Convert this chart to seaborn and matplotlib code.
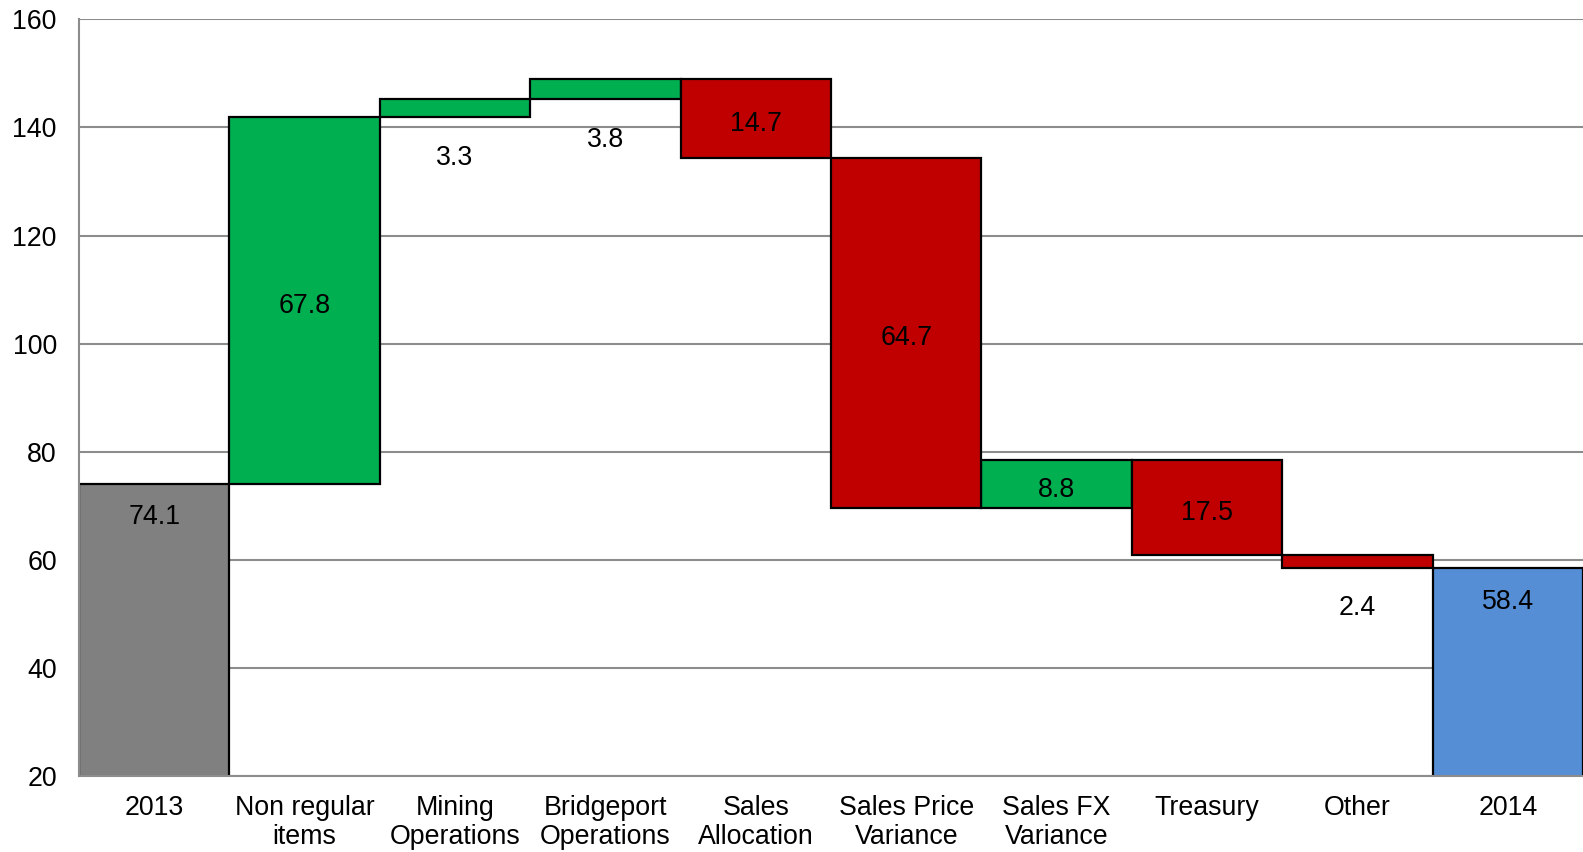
import numpy as np
import pandas as pd
import matplotlib.pyplot as plt
from matplotlib.ticker import FixedLocator
import seaborn as sns

categories = ["2013", "Non regular\nitems", "Mining\nOperations", "Bridgeport\nOperations",
              "Sales\nAllocation", "Sales Price\nVariance", "Sales FX\nVariance",
              "Treasury", "Other", "2014"]
start_value = 74.1
changes = [67.8, 3.3, 3.8, -14.7, -64.7, 8.8, -17.5, -2.4]
end_value = 58.4

colors = {"start": "#808080", "up": "#00B050", "down": "#C00000", "end": "#558ED5"}

# build waterfall table
tops, bottoms, kinds, labels = [start_value], [0.0], ["start"], [start_value]
level = start_value
for c in changes:
    new = level + c
    bottoms.append(min(level, new))
    tops.append(max(level, new))
    kinds.append("up" if c > 0 else "down")
    labels.append(abs(c))
    level = new
bottoms.append(0.0)
tops.append(end_value)
kinds.append("end")
labels.append(end_value)

df = pd.DataFrame({"cat": categories, "bottom": bottoms, "top": tops, "kind": kinds, "label": labels})
df["height"] = df["top"] - df["bottom"]

sns.set_style("white")
plt.rcParams["font.family"] = ["Liberation Sans", "DejaVu Sans"]

fig = plt.figure(figsize=(15.83, 8.52), dpi=100)
ax = fig.add_axes([0.0499, 0.0892, 0.9501, 0.8881])

for kind, sub in df.groupby("kind", sort=False):
    sns.barplot(data=sub, x="cat", y="height", order=categories, bottom=sub["bottom"].values,
                color=colors[kind], saturation=1, width=1.0, edgecolor="black",
                linewidth=1.6, ax=ax, zorder=2)

ax.set_ylim(20, 160)
ax.set_xlim(-0.5, len(categories) - 0.5)
ax.set_yticks(np.arange(20, 161, 20))
ax.yaxis.grid(True, color="#8c8c8c", linewidth=1.5, zorder=0)
ax.set_axisbelow(True)
ax.set_xlabel("")
ax.set_ylabel("")

for s in ["top", "right"]:
    ax.spines[s].set_visible(False)
for s in ["left", "bottom"]:
    ax.spines[s].set_color("#8c8c8c")
    ax.spines[s].set_linewidth(1.5)
    ax.spines[s].set_zorder(3)

fs = 19.3
ax.tick_params(axis="y", length=7, width=1.5, color="#8c8c8c", labelsize=fs, labelcolor="black", pad=9)
ax.tick_params(axis="x", which="major", length=0, labelsize=fs, labelcolor="black", pad=14)
ax.xaxis.set_minor_locator(FixedLocator(np.arange(0.5, len(categories) - 0.5, 1)))
ax.tick_params(axis="x", which="minor", length=7, width=1.5, color="#8c8c8c")
for t in ax.get_xticklabels():
    t.set_verticalalignment("top")
    t.set_linespacing(1.15)

# value labels
for i, row in df.iterrows():
    if row["kind"] in ("start", "end"):
        y = row["top"] - 6.2
    elif row["height"] < 5:
        y = row["bottom"] - 7.5
    else:
        y = (row["top"] + row["bottom"]) / 2 - 1
    ax.text(i, y, f"{row['label']:.1f}", ha="center", va="center", fontsize=fs, color="black", zorder=4)

fig.savefig("out.png", dpi=100)
